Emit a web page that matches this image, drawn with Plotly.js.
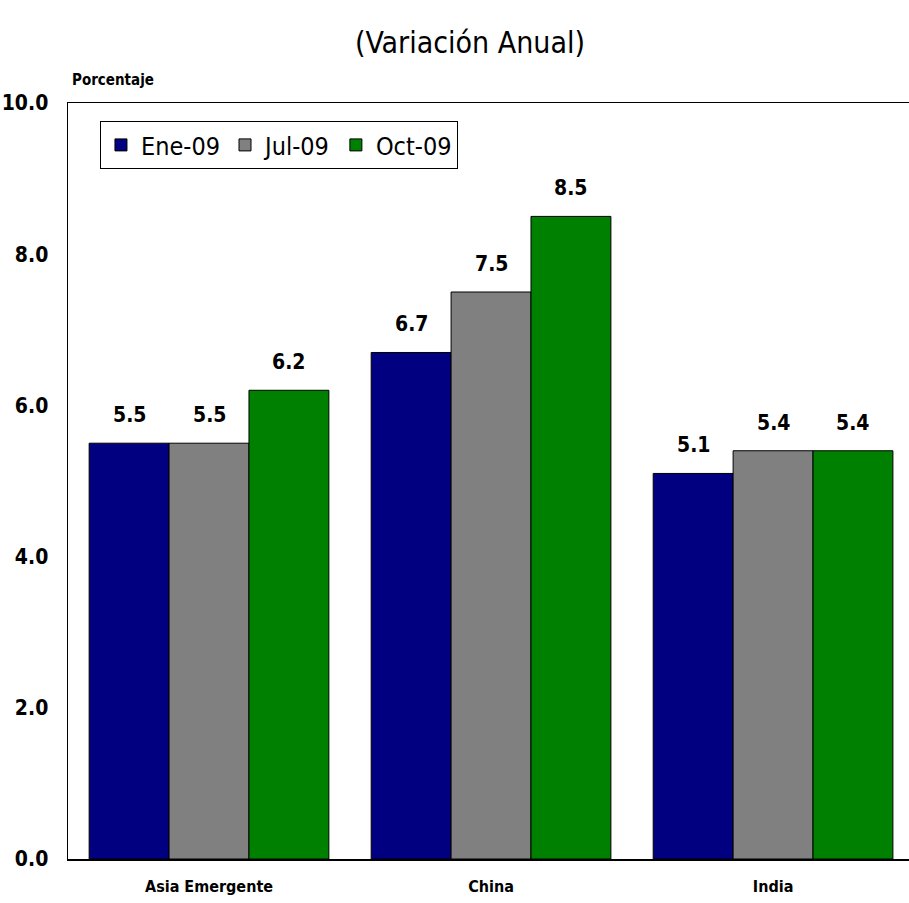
<!DOCTYPE html>
<html>
<head>
<meta charset="utf-8">
<script src="https://cdn.plot.ly/plotly-3.0.1.min.js"></script>
<style>
  html, body { margin: 0; padding: 0; background: #fff; overflow: hidden; }
  #chart { width: 909px; height: 903px; }
</style>
</head>
<body>
<div id="chart"></div>
<script>
// Crecimiento proyectado, variación anual (%)
const regions = ['Asia Emergente', 'China', 'India'];
const seriesNames = ['Ene-09', 'Jul-09', 'Oct-09'];
const ene09 = [5.5, 6.7, 5.1];
const jul09 = [5.5, 7.5, 5.4];
const oct09 = [6.2, 8.5, 5.4];
const yTicks = [0, 2, 4, 6, 8, 10];

const NARROW = 'Liberation Sans Narrow, Arial Narrow, DejaVu Sans Condensed, sans-serif';
const COLORS = ['#000080', '#808080', '#008000'];

// plot geometry: 841px wide, x range ~2.98 categories, bargap 0.15 -> each bar ~80px
const PLOT_W = 909 - 68;
const X_RANGE = [-0.5, 2.482];
const BARGAP = 0.15;
const barPx = PLOT_W / (X_RANGE[1] - X_RANGE[0]) * (1 - BARGAP) / 3;

const allSeries = [ene09, jul09, oct09];

const data = allSeries.map((vals, i) => ({
    type: 'bar',
    name: seriesNames[i],
    x: regions,
    y: vals,
    marker: { color: COLORS[i], line: { color: '#000', width: 1 } },
    hoverinfo: 'skip'
}));

// value labels above each bar
const labels = [];
allSeries.forEach((vals, i) => {
    vals.forEach((v, j) => {
        labels.push({
            x: regions[j], y: v,
            xref: 'x', yref: 'y',
            xshift: (i - 1) * barPx,
            yshift: 14,
            yanchor: 'bottom',
            text: v.toFixed(1),
            showarrow: false,
            font: { family: NARROW, size: 21, color: '#000', weight: 'bold' }
        });
    });
});

const layout = {
    width: 909,
    height: 903,
    margin: { l: 68, r: 0, t: 103, b: 44 },
    paper_bgcolor: '#fff',
    plot_bgcolor: '#fff',
    font: { family: NARROW, color: '#000' },
    title: {
        text: '(Variación Anual)',
        font: { family: NARROW, size: 30, color: '#000' },
        x: 0.517, xanchor: 'center',
        y: 0.953, yanchor: 'middle'
    },
    barmode: 'group',
    bargap: BARGAP,
    bargroupgap: 0,
    showlegend: true,
    legend: {
        orientation: 'h',
        x: 0.038, xanchor: 'left',
        y: 0.976, yanchor: 'top',
        bgcolor: '#fff',
        bordercolor: '#000',
        borderwidth: 1,
        font: { family: NARROW, size: 25, color: '#000' },
        itemwidth: 30,
        tracegroupgap: 0
    },
    xaxis: {
        type: 'category',
        range: X_RANGE,
        showline: true, mirror: true, linecolor: '#000', linewidth: 1.5,
        ticks: '',
        showgrid: false,
        tickfont: { family: NARROW, size: 16, weight: 'bold' },
        ticklabelstandoff: 12
    },
    yaxis: {
        range: [0, 10],
        tickvals: yTicks,
        ticktext: yTicks.map(v => v.toFixed(1)),
        showline: true, mirror: true, linecolor: '#000', linewidth: 1.5,
        ticks: '',
        showgrid: false,
        zeroline: false,
        tickfont: { family: NARROW, size: 21, weight: 'bold' },
        ticklabelstandoff: 14
    },
    annotations: labels.concat([{
        text: 'Porcentaje',
        xref: 'paper', yref: 'paper',
        x: 0.002, xanchor: 'left',
        y: 1.031, yanchor: 'middle',
        showarrow: false,
        font: { family: NARROW, size: 15, color: '#000', weight: 'bold' }
    }])
};

Plotly.newPlot('chart', data, layout, { displayModeBar: false, staticPlot: true });
</script>
</body>
</html>
